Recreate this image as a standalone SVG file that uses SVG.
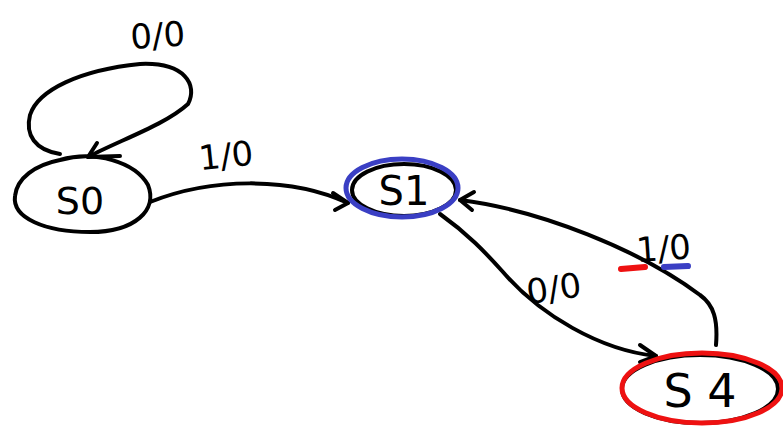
<svg xmlns="http://www.w3.org/2000/svg" width="783" height="429" viewBox="0 0 783 429">
  <style>
    .ink { fill: none; stroke: #000; stroke-width: 4; stroke-linecap: round; stroke-linejoin: round; }
    .blue { fill: none; stroke: #3a3fc4; stroke-width: 5; }
    .red { fill: none; stroke: #ee1111; stroke-width: 5; }
    .lbl { font-family: "DejaVu Sans", sans-serif; font-size: 34px; fill: #000; }
    .st { font-family: "DejaVu Sans", sans-serif; fill: #000; }
  </style>
  <rect width="783" height="429" fill="#fff"/>

  <g id="connectors">
    <!-- S0 self loop -->
    <path class="ink" d="M60 154 C35 150 25 135 30 115 C38 90 80 70 140 64 C185 62 198 85 188 104 C165 125 120 140 88 157"/>
    <path class="ink" d="M88 157 L120 156 M88 157 L97 143"/>
    <text class="lbl" x="130" y="46" transform="rotate(-4 175 30)">0/0</text>

    <!-- S0 to S1 -->
    <path class="ink" d="M150 202 C210 178 290 176 348 203"/>
    <path class="ink" d="M348 203 L333 193 M348 203 L335 210"/>
    <text class="lbl" x="198" y="166" transform="rotate(-6 240 150)">1/0</text>

    <!-- S1 to S4 -->
    <path class="ink" d="M440 214 C468 234 485 252 503 272 C540 315 600 350 656 356"/>
    <path class="ink" d="M656 356 L640 345 M656 356 L640 362"/>
    <text class="lbl" x="526" y="300" transform="rotate(-8 555 285)">0/0</text>

    <!-- S4 to S1 -->
    <path class="ink" d="M716 345 C718 320 714 305 700 295 C640 250 540 210 460 200"/>
    <path class="ink" d="M460 200 L474 192 M460 200 L472 210"/>
    <text class="lbl" x="636" y="260" transform="rotate(-4 665 245)">1/0</text>
    <path d="M621 269 L645 267" stroke="#ee1111" stroke-width="6" stroke-linecap="round"/>
    <path d="M664 267 L688 266" stroke="#3a3fc4" stroke-width="6" stroke-linecap="round"/>
  </g>

  <g id="S0">
    <path class="ink" d="M60 160 C95 150 135 162 148 185 C158 210 135 232 90 232 C45 232 12 218 15 196 C17 178 35 165 60 160 Z"/>
    <text class="st" x="80" y="214" font-size="38" text-anchor="middle">S0</text>
  </g>

  <g id="S1">
    <ellipse class="ink" cx="404" cy="190" rx="52" ry="26"/>
    <ellipse class="blue" cx="402" cy="188" rx="56" ry="29"/>
    <text class="st" x="404" y="205" font-size="40" text-anchor="middle">S1</text>
  </g>

  <g id="S4">
    <ellipse class="ink" cx="700" cy="389" rx="78" ry="34"/>
    <ellipse class="red" cx="702" cy="388" rx="80" ry="35"/>
    <text class="st" x="700" y="407" font-size="46" text-anchor="middle">S 4</text>
  </g>
</svg>
